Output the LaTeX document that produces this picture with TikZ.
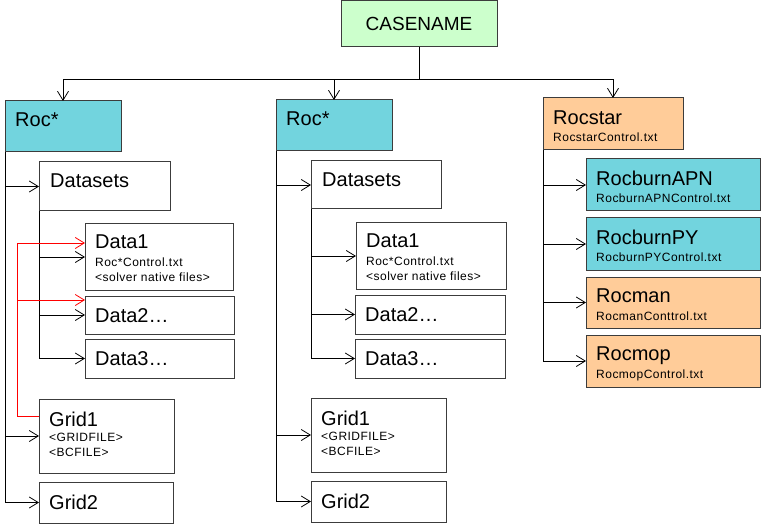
\documentclass[tikz,border=0pt]{standalone}
\usepackage{fontspec}
\setmainfont{Liberation Sans}
\newfontfamily\spacedfont[LetterSpace=4.0]{Liberation Sans}
\usetikzlibrary{positioning, arrows.meta}
\definecolor{caseGreen}{RGB}{204,255,204}
\definecolor{rocCyan}{RGB}{114,212,222}
\definecolor{rocOrange}{RGB}{255,204,153}
\definecolor{boxLine}{RGB}{60,60,60}
\tikzset{
	x=1pt,
	y=1pt,
	box/.style={
		draw=boxLine,
		rectangle,
		line width=1pt,
		inner sep=0pt,
		outer sep=0pt,
		anchor=north west
	},
	title/.style={
		inner sep=0pt,
		font=\fontsize{20}{24}\selectfont
	},
	detail/.style={
		inner sep=0pt,
		align=left,
		font=\spacedfont\fontsize{12}{15}\selectfont
	},
	link/.style={
		-{Straight Barb[length=9pt,width=11pt]},
		line width=.8pt
	},
	redlink/.style={
		link,
		red
	}
}

\begin{document}
\begin{tikzpicture}
\useasboundingbox (0,0) rectangle (761,-524);

\node[box, fill=caseGreen, minimum width=156pt, minimum height=46pt, font=\fontsize{19}{23}\selectfont] (case) at (341,-1) {CASENAME};

% first solver
\node[box, fill=rocCyan, minimum width=116pt, minimum height=51pt] (roc1) at (5,-101) {};
\node[box, minimum width=131pt, minimum height=49pt] (ds1) at (39,-162) {};
\node[box, minimum width=148pt, minimum height=66pt] (d11) at (85,-224) {};
\node[box, minimum width=149pt, minimum height=38pt] (d12) at (85,-296) {};
\node[box, minimum width=149pt, minimum height=39pt] (d13) at (85,-339) {};
\node[box, minimum width=135pt, minimum height=74pt] (g11) at (39,-399) {};
\node[box, minimum width=134pt, minimum height=41pt] (g12) at (39,-482) {};

\node[title, below right=12pt and 10pt of roc1.north west] (roc1t) {Roc*};
\node[title, below right=12pt and 11pt of ds1.north west] (ds1t) {Datasets};
\node[title, below right=11pt and 10pt of d11.north west] (d11t) {Data1};
\node[detail, below right=34pt and 10pt of d11.north west] (d11d) {Roc*Control.txt\\<solver native files>};
\node[title, below right=12pt and 10pt of d12.north west] (d12t) {Data2…};
\node[title, below right=12pt and 10pt of d13.north west] (d13t) {Data3…};
\node[title, below right=13pt and 10pt of g11.north west] (g11t) {Grid1};
\node[detail, below right=34pt and 10pt of g11.north west] (g11d) {<GRIDFILE>\\<BCFILE>};
\node[title, below right=13pt and 10pt of g12.north west] (g12t) {Grid2};

% second solver
\node[box, fill=rocCyan, minimum width=116pt, minimum height=51pt] (roc2) at (276,-100) {};
\node[box, minimum width=130pt, minimum height=48pt] (ds2) at (311,-161) {};
\node[box, minimum width=150pt, minimum height=66pt] (d21) at (356,-223) {};
\node[box, minimum width=150pt, minimum height=39pt] (d22) at (355,-295) {};
\node[box, minimum width=150pt, minimum height=39pt] (d23) at (355,-339) {};
\node[box, minimum width=135pt, minimum height=74pt] (g21) at (311,-398) {};
\node[box, minimum width=135pt, minimum height=41pt] (g22) at (311,-481) {};

\node[title, below right=12pt and 10pt of roc2.north west] (roc2t) {Roc*};
\node[title, below right=12pt and 11pt of ds2.north west] (ds2t) {Datasets};
\node[title, below right=11pt and 10pt of d21.north west] (d21t) {Data1};
\node[detail, below right=34pt and 10pt of d21.north west] (d21d) {Roc*Control.txt\\<solver native files>};
\node[title, below right=12pt and 10pt of d22.north west] (d22t) {Data2…};
\node[title, below right=12pt and 10pt of d23.north west] (d23t) {Data3…};
\node[title, below right=13pt and 10pt of g21.north west] (g21t) {Grid1};
\node[detail, below right=34pt and 10pt of g21.north west] (g21d) {<GRIDFILE>\\<BCFILE>};
\node[title, below right=13pt and 10pt of g22.north west] (g22t) {Grid2};

% driver
\node[box, fill=rocOrange, minimum width=140pt, minimum height=52pt] (rocstar) at (543,-98) {};
\node[box, fill=rocCyan, minimum width=174pt, minimum height=52pt] (apn) at (586,-159) {};
\node[box, fill=rocCyan, minimum width=174pt, minimum height=52pt] (py) at (586,-218) {};
\node[box, fill=rocOrange, minimum width=174pt, minimum height=51pt] (man) at (586,-277) {};
\node[box, fill=rocOrange, minimum width=174pt, minimum height=52pt] (mop) at (586,-335) {};

\node[title, below right=13pt and 10pt of rocstar.north west] (rocstart) {Rocstar};
\node[detail, below right=35pt and 10pt of rocstar.north west] (rocstard) {RocstarControl.txt};
\node[title, below right=12pt and 10pt of apn.north west] (apnt) {RocburnAPN};
\node[detail, below right=35pt and 10pt of apn.north west] (apnd) {RocburnAPNControl.txt};
\node[title, below right=12pt and 10pt of py.north west] (pyt) {RocburnPY};
\node[detail, below right=35pt and 10pt of py.north west] (pyd) {RocburnPYControl.txt};
\node[title, below right=12pt and 10pt of man.north west] (mant) {Rocman};
\node[detail, below right=35pt and 10pt of man.north west] (mand) {RocmanConttrol.txt};
\node[title, below right=12pt and 10pt of mop.north west] (mopt) {Rocmop};
\node[detail, below right=35pt and 10pt of mop.north west] (mopd) {RocmopControl.txt};

% top split
\coordinate (split) at (419,-79);
\draw[line width=.8pt] (case.south) -- (split);
\foreach \n in {roc1, roc2, rocstar}
	\draw[link] (split) -| (\n.north);

% trunks
\draw[link] (roc1.south west) |- (g12.west);
\foreach \n in {ds1, g11}
	\draw[link] (roc1.south west |- \n.west) -- (\n.west);
\draw[link] (ds1.south west) |- (d13.west);
\foreach \n in {d11, d12}
	\draw[link] (ds1.south west |- \n.west) -- (\n.west);

\draw[link] (roc2.south west) |- (g22.west);
\foreach \n in {ds2, g21}
	\draw[link] (roc2.south west |- \n.west) -- (\n.west);
\draw[link] (ds2.south west) |- (d23.west);
\foreach \n in {d21, d22}
	\draw[link] (ds2.south west |- \n.west) -- (\n.west);

\draw[link] (rocstar.south west) |- (mop.west);
\foreach \n in {apn, py, man}
	\draw[link] (rocstar.south west |- \n.west) -- (\n.west);

% grid to data
\coordinate (redtop) at (17,-243);
\coordinate (redmid) at (17,-300);
\draw[redlink] ([yshift=-17pt]g11.north west) -| (redtop) -- (redtop -| d11.west);
\draw[redlink] (redmid) -- (redmid -| d12.west);
\end{tikzpicture}
\end{document}
